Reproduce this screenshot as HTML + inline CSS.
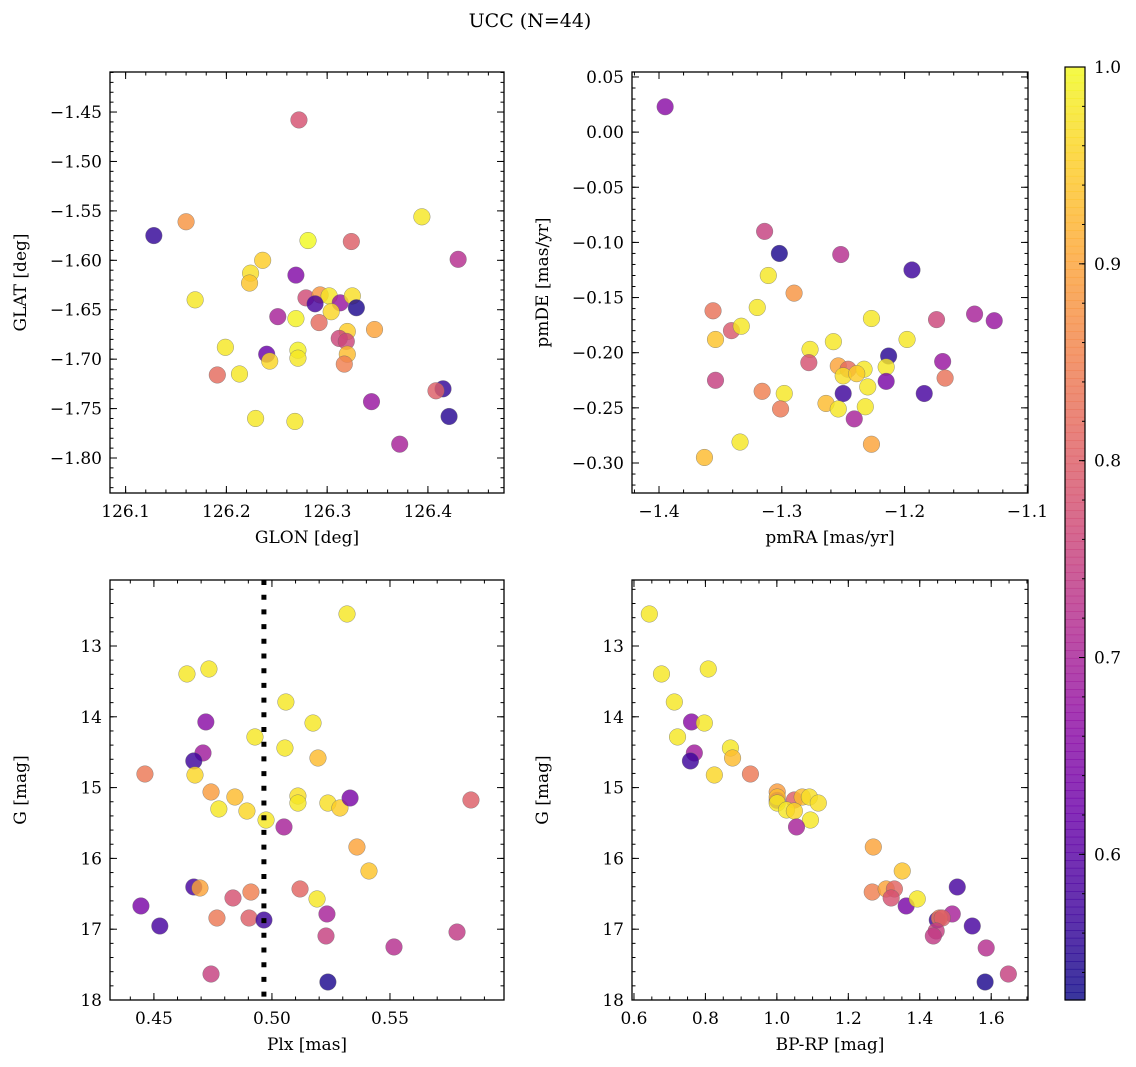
<!DOCTYPE html>
<html><head><meta charset="utf-8">
<style>
html,body{margin:0;padding:0;background:#fff;}
svg{display:block;font-family:"DejaVu Serif","Liberation Serif",serif;}
</style></head>
<body>
<svg id="fig" width="1136" height="1067" viewBox="0 0 1136 1067" xmlns="http://www.w3.org/2000/svg">
<text x="530" y="27" font-size="19" text-anchor="middle">UCC (N=44)</text>
</svg>
<script>
// ---- Data (per panel) ----
const p1Glon=[126.128,126.160,126.281,126.324,126.394,126.430,126.236,126.224,126.223,126.269,126.169,126.279,126.293,126.302,126.288,126.313,126.325,126.329,126.304,126.251,126.269,126.292,126.347,126.320,126.312,126.319,126.199,126.240,126.243,126.271,126.271,126.320,126.317,126.191,126.213,126.415,126.408,126.344,126.421,126.229,126.268,126.372,126.272];
const p1Glat=[-1.575,-1.561,-1.580,-1.581,-1.556,-1.599,-1.600,-1.613,-1.623,-1.615,-1.640,-1.638,-1.635,-1.636,-1.644,-1.643,-1.636,-1.648,-1.652,-1.657,-1.659,-1.663,-1.670,-1.672,-1.679,-1.682,-1.688,-1.695,-1.702,-1.691,-1.699,-1.695,-1.705,-1.716,-1.715,-1.730,-1.732,-1.743,-1.758,-1.760,-1.763,-1.786,-1.458];
const p1Prob=[0.56,0.88,1.0,0.80,0.98,0.72,0.95,0.97,0.94,0.65,0.98,0.77,0.88,0.98,0.58,0.68,0.97,0.54,0.96,0.70,0.99,0.82,0.90,0.95,0.76,0.76,0.98,0.62,0.96,0.99,0.98,0.93,0.85,0.82,0.98,0.56,0.80,0.68,0.55,0.98,0.98,0.70,0.78];

const p2PmRA=[-1.395,-1.314,-1.302,-1.252,-1.194,-1.311,-1.290,-1.356,-1.320,-1.341,-1.333,-1.354,-1.227,-1.174,-1.143,-1.127,-1.258,-1.198,-1.277,-1.213,-1.278,-1.169,-1.254,-1.246,-1.233,-1.215,-1.250,-1.239,-1.354,-1.167,-1.215,-1.230,-1.316,-1.298,-1.250,-1.184,-1.301,-1.264,-1.254,-1.232,-1.241,-1.334,-1.227,-1.363];
const p2PmDE=[0.023,-0.090,-0.110,-0.111,-0.125,-0.130,-0.146,-0.162,-0.159,-0.180,-0.176,-0.188,-0.169,-0.170,-0.165,-0.171,-0.190,-0.188,-0.197,-0.203,-0.209,-0.208,-0.212,-0.215,-0.215,-0.213,-0.221,-0.219,-0.225,-0.223,-0.226,-0.231,-0.235,-0.237,-0.237,-0.237,-0.251,-0.246,-0.251,-0.249,-0.260,-0.281,-0.283,-0.295];
const p2Prob=[0.66,0.75,0.54,0.72,0.57,0.98,0.88,0.83,0.98,0.79,0.98,0.94,0.98,0.76,0.70,0.68,0.98,0.98,0.98,0.55,0.78,0.68,0.90,0.82,0.98,0.98,0.97,0.95,0.75,0.83,0.64,0.98,0.85,0.98,0.57,0.58,0.84,0.93,0.98,0.98,0.70,0.98,0.90,0.93];

const p3Plx=[0.5318,0.4640,0.4733,0.5059,0.4720,0.5174,0.4928,0.5055,0.4708,0.4669,0.5195,0.4462,0.4674,0.4742,0.4843,0.5110,0.5110,0.5237,0.5288,0.5331,0.5843,0.4775,0.4894,0.4975,0.5051,0.5360,0.5411,0.4669,0.4695,0.4835,0.4911,0.5119,0.5191,0.4445,0.5233,0.4525,0.4767,0.4903,0.4966,0.5229,0.5784,0.5517,0.4742,0.5237];
const p3G=[12.548,13.395,13.325,13.791,14.073,14.088,14.285,14.441,14.511,14.624,14.582,14.808,14.822,15.062,15.133,15.119,15.218,15.218,15.288,15.147,15.175,15.302,15.331,15.458,15.556,15.839,16.178,16.404,16.418,16.559,16.475,16.432,16.573,16.672,16.785,16.955,16.842,16.842,16.870,17.096,17.040,17.251,17.633,17.746];
const p3Prob=[0.98,0.98,0.98,0.98,0.66,0.98,0.98,0.98,0.69,0.57,0.93,0.84,0.96,0.89,0.93,0.97,0.98,0.97,0.95,0.64,0.80,0.98,0.96,0.98,0.70,0.90,0.94,0.58,0.90,0.78,0.85,0.81,0.98,0.64,0.70,0.58,0.84,0.80,0.57,0.75,0.74,0.72,0.75,0.54];
const plxLine=[0.4966];

const p4BpRp=[0.643,0.677,0.808,0.713,0.761,0.797,0.722,0.870,0.769,0.758,0.876,0.825,0.926,1.001,1.001,1.001,1.001,1.049,1.071,1.091,1.116,1.027,1.049,1.094,1.055,1.270,1.351,1.267,1.306,1.329,1.320,1.362,1.393,1.505,1.491,1.547,1.449,1.455,1.463,1.446,1.438,1.586,1.583,1.648];
const p4G=[12.548,13.395,13.325,13.791,14.073,14.088,14.285,14.441,14.511,14.624,14.582,14.822,14.808,15.062,15.180,15.133,15.218,15.175,15.133,15.133,15.218,15.316,15.331,15.458,15.556,15.839,16.178,16.475,16.432,16.432,16.559,16.672,16.573,16.404,16.785,16.955,16.870,16.842,16.842,17.025,17.096,17.265,17.746,17.633];
const p4Prob=[0.98,0.98,0.98,0.98,0.66,0.98,0.98,0.98,0.69,0.57,0.93,0.96,0.84,0.89,0.64,0.93,0.98,0.80,0.93,0.97,0.97,0.98,0.96,0.98,0.70,0.90,0.94,0.85,0.90,0.81,0.78,0.64,0.98,0.58,0.70,0.58,0.57,0.84,0.80,0.75,0.74,0.72,0.54,0.75];

const cbTicks=[0.6,0.7,0.8,0.9,1.0];
const cMin=0.526, cMax=1.0;

// ---- helpers ----
const NS="http://www.w3.org/2000/svg";
const svg=document.getElementById('fig');
function mk(tag,attrs,parent){const e=document.createElementNS(NS,tag);for(const k in attrs)e.setAttribute(k,attrs[k]);(parent||svg).appendChild(e);return e;}
const plasma=[[13,8,135],[65,4,157],[106,0,168],[143,13,164],[177,42,144],[204,71,120],[225,100,98],[242,132,75],[252,166,54],[252,206,37],[240,249,33]];
function cmap(v){let t=(v-cMin)/(cMax-cMin);t=Math.max(0,Math.min(1,t));const s=t*10;const i=Math.min(9,Math.floor(s));const f=s-i;const a=plasma[i],b=plasma[i+1];return 'rgb('+a.map((x,k)=>Math.round(x+(b[k]-x)*f)).join(',')+')';}
function fmt(v,d){const s=Math.abs(v).toFixed(d);return (v<-1e-9?'\u2212':'')+s;}

function panel(name,box,xlim,ylim,invY,xMaj,xMin,yMaj,yMin,xd,yd,xlab,ylab,xs,ys,cs){
  const g=mk('g',{});  
  const X=v=>box.x0+(v-xlim[0])/(xlim[1]-xlim[0])*(box.x1-box.x0);
  const Y=v=>invY? box.y0+(v-ylim[0])/(ylim[1]-ylim[0])*(box.y1-box.y0) : box.y1-(v-ylim[0])/(ylim[1]-ylim[0])*(box.y1-box.y0);
  const pts=mk('g',{},g);  
  for(let i=0;i<xs.length;i++){
    const c=mk('circle',{cx:X(xs[i]),cy:Y(ys[i]),r:8.3,fill:cmap(cs[i]),'fill-opacity':0.82,stroke:'#666','stroke-width':0.5,'stroke-opacity':0.7},pts);
    
    
  }
  const frame=mk('rect',{x:box.x0,y:box.y0,width:box.x1-box.x0,height:box.y1-box.y0,fill:'none',stroke:'#000','stroke-width':1.3},g);
   
  const tk=mk('g',{stroke:'#000','stroke-width':1},g);  
  const eps=1e-9;
  function ticksX(step,len,labels){
    const start=Math.ceil((xlim[0]-eps)/step)*step;
    for(let v=start;v<=xlim[1]+eps;v+=step){const x=X(v);
      mk('line',{x1:x,x2:x,y1:box.y1,y2:box.y1-len},tk);mk('line',{x1:x,x2:x,y1:box.y0,y2:box.y0+len},tk);
      if(labels){const t=mk('text',{x:x,y:box.y1+24,'font-size':17,'text-anchor':'middle',stroke:'none',fill:'#000'},g);t.textContent=fmt(v,xd);}}
  }
  function ticksY(step,len,labels){
    const start=Math.ceil((ylim[0]-eps)/step)*step;
    for(let v=start;v<=ylim[1]+eps;v+=step){const y=Y(v);
      mk('line',{x1:box.x0,x2:box.x0+len,y1:y,y2:y},tk);mk('line',{x1:box.x1,x2:box.x1-len,y1:y,y2:y},tk);
      if(labels){const t=mk('text',{x:box.x0-8,y:y+6,'font-size':17,'text-anchor':'end',stroke:'none',fill:'#000'},g);t.textContent=fmt(v,yd);}}
  }
  ticksX(xMin,3.5,false);ticksX(xMaj,7,true);ticksY(yMin,3.5,false);ticksY(yMaj,7,true);
  const xl=mk('text',{x:(box.x0+box.x1)/2,y:box.y1+50,'font-size':17,'text-anchor':'middle'},g);xl.textContent=xlab;
  const cy=(box.y0+box.y1)/2, cx=box.x0-84;
  const yl=mk('text',{x:cx,y:cy,'font-size':17,'text-anchor':'middle',transform:'rotate(-90 '+cx+' '+cy+')'},g);yl.textContent=ylab;
  return {X,Y,g};
}

panel('panel-glon-glat',{x0:110,x1:504,y0:72,y1:493},[126.0845,126.4755],[-1.8354,-1.4095],false,0.1,0.02,0.05,0.01,1,2,'GLON [deg]','GLAT [deg]',p1Glon,p1Glat,p1Prob);
panel('panel-pmra-pmde',{x0:632,x1:1028,y0:72,y1:493},[-1.422,-1.0995],[-0.3272,0.0545],false,0.1,0.02,0.05,0.01,1,2,'pmRA [mas/yr]','pmDE [mas/yr]',p2PmRA,p2PmDE,p2Prob);
const p3=panel('panel-plx-g',{x0:110,x1:504,y0:580,y1:1000},[0.4314,0.5983],[12.068,18],true,0.05,0.01,1,0.2,2,0,'Plx [mas]','G [mag]',p3Plx,p3G,p3Prob);
const vl=mk('line',{x1:p3.X(plxLine[0]),x2:p3.X(plxLine[0]),y1:580,y2:1000,stroke:'#000','stroke-width':5,'stroke-dasharray':'5 9.7'},p3.g);


panel('panel-bprp-g',{x0:632,x1:1028,y0:580,y1:1000},[0.5945,1.703],[12.068,18],true,0.2,0.05,1,0.2,1,0,'BP-RP [mag]','G [mag]',p4BpRp,p4G,p4Prob);

// ---- colorbar ----
const cb=mk('g',{});  
const cbx0=1065,cbx1=1085,cby0=67,cby1=1000;
const CY=v=>cby1-(v-cMin)/(cMax-cMin)*(cby1-cby0);
const N=120;
for(let i=0;i<N;i++){const v=cMin+(cMax-cMin)*(i+0.5)/N;const ya=CY(cMin+(cMax-cMin)*(i+1)/N);
  mk('rect',{x:cbx0,y:ya,width:cbx1-cbx0,height:(cby1-cby0)/N+0.6,fill:cmap(v),'fill-opacity':0.82},cb);}
mk('rect',{x:cbx0,y:cby0,width:cbx1-cbx0,height:cby1-cby0,fill:'none',stroke:'#000','stroke-width':1.2},cb);
for(let v=0.54;v<=1.0001;v+=0.02){mk('line',{x1:cbx1,x2:cbx1-3,y1:CY(v),y2:CY(v),stroke:'#000','stroke-width':1},cb);}
for(const v of cbTicks){const y=CY(v);mk('line',{x1:cbx1,x2:cbx1-6,y1:y,y2:y,stroke:'#000','stroke-width':1},cb);
  const t=mk('text',{x:cbx1+9,y:y+6,'font-size':17},cb);t.textContent=v.toFixed(1);
  
  }
</script>
</body></html>
